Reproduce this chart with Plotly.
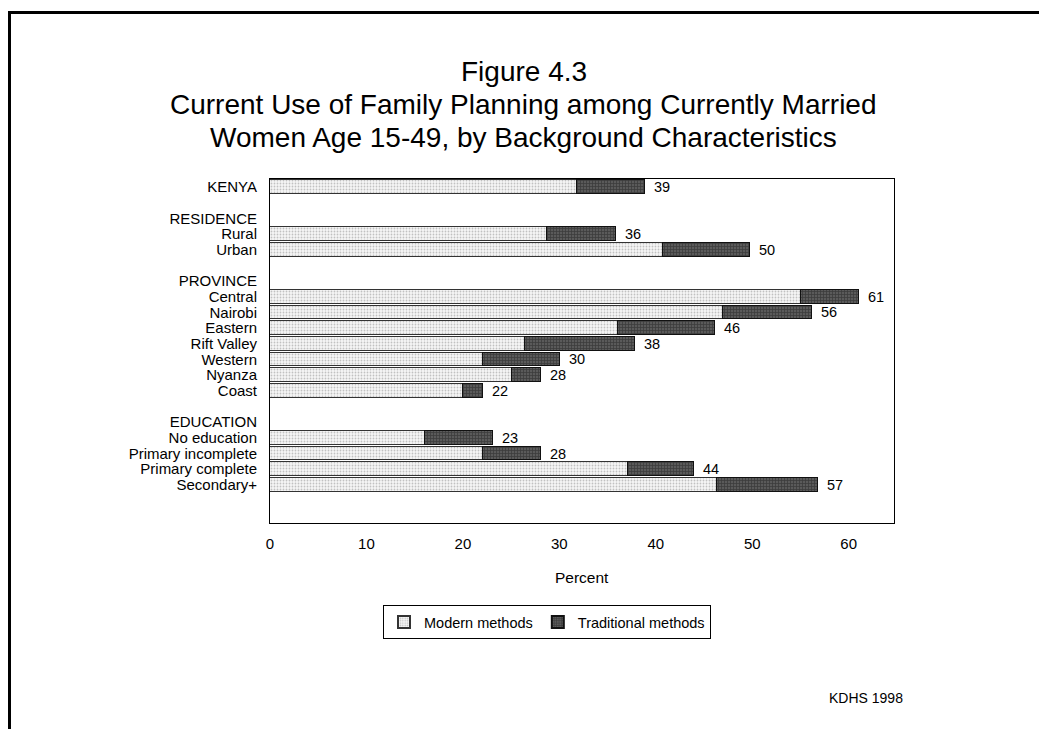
import plotly.graph_objects as go

# ---- data ----
categories = ["KENYA", "RESIDENCE", "Rural", "Urban", "PROVINCE", "Central", "Nairobi",
              "Eastern", "Rift Valley", "Western", "Nyanza", "Coast", "EDUCATION",
              "No education", "Primary incomplete", "Primary complete", "Secondary+"]
slots = [0, 2, 3, 4, 6, 7, 8, 9, 10, 11, 12, 13, 15, 16, 17, 18, 19]

bar_categories = ["KENYA", "Rural", "Urban", "Central", "Nairobi", "Eastern", "Rift Valley",
                  "Western", "Nyanza", "Coast", "No education", "Primary incomplete",
                  "Primary complete", "Secondary+"]
modern = [31.8, 28.7, 40.7, 55.1, 47.0, 36.1, 26.4, 22.1, 25.1, 20.0, 16.1, 22.1, 37.1, 46.3]
traditional = [7.1, 7.2, 9.1, 6.0, 9.2, 10.0, 11.4, 8.0, 3.0, 2.1, 7.0, 6.0, 6.9, 10.5]
totals_text = ["39", "36", "50", "61", "56", "46", "38", "30", "28", "22", "23", "28", "44", "57"]

x_ticks = [0, 10, 20, 30, 40, 50, 60]

title_lines = ["Figure 4.3",
               "Current Use of Family Planning among Currently Married",
               "Women Age 15-49, by Background Characteristics"]

FONT = "Liberation Sans, Arial, sans-serif"

slot_of = dict(zip(categories, slots))
ypos = [slot_of[c] for c in bar_categories]

# plot area in reference pixels: x 270..894, y 179..523 ; page has 8px body margin
PL, PR, PT, PB = 270, 894, 179, 523
OFF = 8


def px(pix):
    return (pix - PL) / (PR - PL)


def py(pix):
    return (PB - pix) / (PB - PT)


fig = go.Figure()
fig.add_trace(go.Bar(
    name="Modern methods", y=ypos, x=modern, orientation="h", width=0.88,
    marker=dict(color="white", line=dict(color="#333333", width=1),
                pattern=dict(shape=".", fgcolor="#8c8c8c", bgcolor="#f6f6f6",
                             size=3, solidity=0.3)),
    hoverinfo="skip"))
fig.add_trace(go.Bar(
    name="Traditional methods", y=ypos, x=traditional, orientation="h", width=0.88,
    marker=dict(color="#444444", line=dict(color="#111111", width=1),
                pattern=dict(shape="+", fgcolor="#1e1e1e", bgcolor="#5a5a5a",
                             size=3, solidity=0.45)),
    hoverinfo="skip"))

annotations = []
for y, m, t, s in zip(ypos, modern, traditional, totals_text):
    annotations.append(dict(x=m + t, y=y, xref="x", yref="y", text=s, showarrow=False,
                            xanchor="left", yanchor="middle", xshift=7,
                            font=dict(family=FONT, size=14.5, color="black")))

for line, yc in zip(title_lines, [71, 104, 137]):
    annotations.append(dict(x=px(523.5), y=py(yc), xref="paper", yref="paper", text=line,
                            showarrow=False, xanchor="center", yanchor="middle",
                            font=dict(family=FONT, size=28, color="black")))

annotations.append(dict(x=0.5, y=py(577), xref="paper", yref="paper", text="Percent",
                        showarrow=False, xanchor="center", yanchor="middle",
                        font=dict(family=FONT, size=15.5, color="black")))
annotations.append(dict(x=px(905), y=py(698), xref="paper", yref="paper", text="KDHS 1998",
                        showarrow=False, xanchor="right", yanchor="middle",
                        font=dict(family=FONT, size=14, color="black")))

shapes = [
    dict(type="line", xref="paper", yref="paper", x0=px(9.5), x1=px(1070),
         y0=py(12.5), y1=py(12.5), line=dict(color="black", width=3)),
    dict(type="line", xref="paper", yref="paper", x0=px(9.5), x1=px(9.5),
         y0=py(11), y1=py(760), line=dict(color="black", width=3)),
]

W, H = 1047, 729
fig.update_layout(
    width=W, height=H,
    margin=dict(l=PL - OFF, r=W - (PR - OFF), t=PT - OFF, b=H - (PB - OFF), autoexpand=False),
    paper_bgcolor="white", plot_bgcolor="white",
    barmode="stack", bargap=0,
    font=dict(family=FONT, color="black"),
    showlegend=True,
    legend=dict(orientation="h", x=px(383), y=py(605), xanchor="left", yanchor="top",
                bordercolor="black", borderwidth=1, bgcolor="white",
                font=dict(family=FONT, size=14.5), itemwidth=30,
                traceorder="normal", tracegroupgap=0, itemsizing="constant"),
    annotations=annotations,
    shapes=shapes,
)
fig.update_xaxes(range=[0, 64.7], tickvals=x_ticks, ticktext=[str(v) for v in x_ticks],
                 showgrid=False, zeroline=False, showline=True, linecolor="black",
                 linewidth=1, mirror=True, ticks="", ticklabelstandoff=7,
                 tickfont=dict(family=FONT, size=15, color="black"), fixedrange=True)
fig.update_yaxes(range=[21.43, -0.51], tickvals=slots, ticktext=categories,
                 showgrid=False, zeroline=False, showline=True, linecolor="black",
                 linewidth=1, mirror=True, ticks="", ticklabelstandoff=9,
                 tickfont=dict(family=FONT, size=15, color="black"), fixedrange=True)

fig.write_html("out.html")
